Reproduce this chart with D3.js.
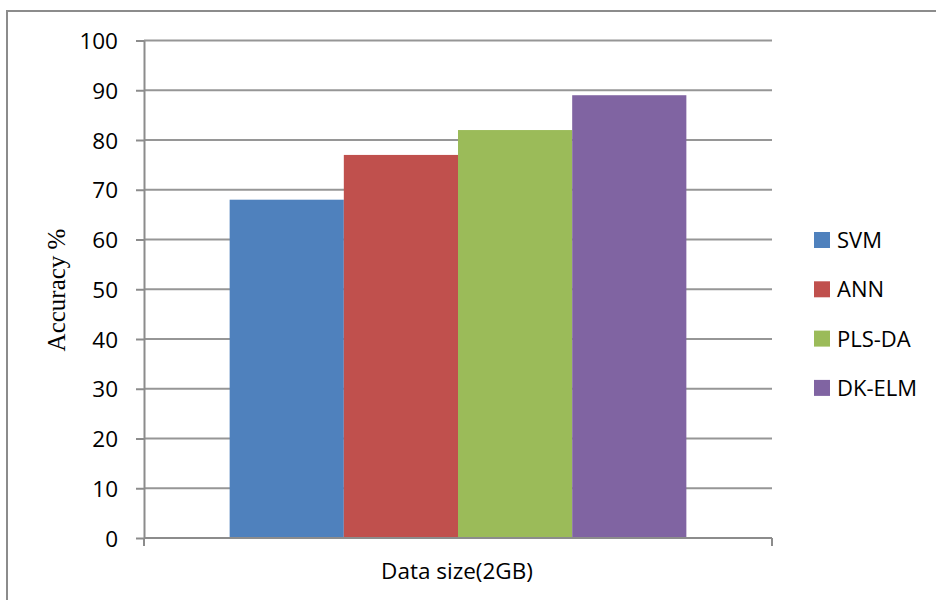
<!DOCTYPE html>
<html>
<head>
<meta charset="utf-8">
<script src="https://cdn.jsdelivr.net/npm/d3@7"></script>
<style>
  html, body { margin: 0; padding: 0; background: #fff; }
  svg { display: block; }
</style>
</head>
<body>
<svg id="chart" width="936" height="600"></svg>
<script>
// Accuracy by method for a 2GB data size
const categories = ["Data size(2GB)"];
const seriesNames = ["SVM", "ANN", "PLS-DA", "DK-ELM"];
const seriesValues = [68, 77, 82, 89];
const seriesColors = ["#4F81BD", "#C0504D", "#9BBB59", "#8064A2"];
const yTicks = [0, 10, 20, 30, 40, 50, 60, 70, 80, 90, 100];

const svg = d3.select("#chart");
const plot = { left: 144, right: 772, top: 40.5, bottom: 538 };
const sansFont = "'Open Sans', 'Noto Sans', sans-serif";

// outer chart frame (top and left edges)
svg.append("path")
  .attr("d", "M7,600 V11 H936")
  .attr("fill", "none")
  .attr("stroke", "#8c8c8c")
  .attr("stroke-width", 2);

const y = d3.scaleLinear().domain([0, 100]).range([plot.bottom, plot.top]);
const x0 = d3.scaleBand().domain(categories).range([plot.left, plot.right]).paddingInner(0).paddingOuter(0);
// gap width 150% of a bar on each group
const groupInner = x0.bandwidth() * 4 / 5.5;
const x1 = d3.scaleBand().domain(seriesNames)
  .range([(x0.bandwidth() - groupInner) / 2, (x0.bandwidth() + groupInner) / 2])
  .padding(0);

// horizontal gridlines
svg.append("g")
  .selectAll("line")
  .data(yTicks.filter(t => t > 0))
  .join("line")
  .attr("x1", plot.left)
  .attr("x2", plot.right)
  .attr("y1", d => y(d))
  .attr("y2", d => y(d))
  .attr("stroke", "#969696")
  .attr("stroke-width", 2);

// bars
const group = svg.append("g");
categories.forEach(cat => {
  group.selectAll("rect")
    .data(seriesNames.map((name, i) => ({ name, value: seriesValues[i], color: seriesColors[i] })))
    .join("rect")
    .attr("x", d => x0(cat) + x1(d.name))
    .attr("width", x1.bandwidth())
    .attr("y", d => y(d.value))
    .attr("height", d => y(0) - y(d.value))
    .attr("fill", d => d.color);
});

// y axis
const yAxis = svg.append("g")
  .attr("transform", `translate(${plot.left},0)`)
  .call(d3.axisLeft(y).tickValues(yTicks).tickSize(8).tickPadding(18).tickSizeOuter(0));
yAxis.select(".domain").attr("stroke", "#8c8c8c").attr("stroke-width", 2);
yAxis.selectAll(".tick line").attr("stroke", "#8c8c8c").attr("stroke-width", 2);
yAxis.selectAll(".tick text")
  .attr("font-family", sansFont)
  .attr("font-size", 22.5)
  .attr("fill", "#000")
  .attr("dy", "0.36em");

// x axis: baseline with category-boundary ticks
const xAxis = svg.append("g");
xAxis.append("line")
  .attr("x1", plot.left).attr("x2", plot.right)
  .attr("y1", plot.bottom).attr("y2", plot.bottom)
  .attr("stroke", "#8c8c8c").attr("stroke-width", 2);
xAxis.selectAll("line.tick")
  .data([x0.range()[0], x0.range()[1]])
  .join("line")
  .attr("class", "tick")
  .attr("x1", d => d).attr("x2", d => d)
  .attr("y1", plot.bottom).attr("y2", plot.bottom + 8)
  .attr("stroke", "#8c8c8c").attr("stroke-width", 2);
xAxis.selectAll("text")
  .data(categories)
  .join("text")
  .attr("x", d => x0(d) + x0.bandwidth() / 2 - 1)
  .attr("y", 579)
  .attr("text-anchor", "middle")
  .attr("font-family", sansFont)
  .attr("font-size", 22.5)
  .attr("fill", "#000")
  .text(d => d);

// y axis title
svg.append("text")
  .attr("transform", "translate(65,290) rotate(-90)")
  .attr("text-anchor", "middle")
  .attr("font-family", "'Liberation Serif', 'Times New Roman', serif")
  .attr("font-size", 25)
  .attr("fill", "#000")
  .text("Accuracy %");

// legend
const legend = svg.append("g").attr("transform", "translate(814,0)");
const legendItems = legend.selectAll("g")
  .data(seriesNames.map((name, i) => ({ name, color: seriesColors[i] })))
  .join("g")
  .attr("transform", (d, i) => `translate(0,${240 + i * 49.3})`);
legendItems.append("rect")
  .attr("x", 0).attr("y", -8)
  .attr("width", 16).attr("height", 16)
  .attr("fill", d => d.color);
legendItems.append("text")
  .attr("x", 23)
  .attr("y", 0)
  .attr("dy", "0.36em")
  .attr("font-family", sansFont)
  .attr("font-size", 22)
  .attr("fill", "#000")
  .text(d => d.name);
</script>
</body>
</html>
